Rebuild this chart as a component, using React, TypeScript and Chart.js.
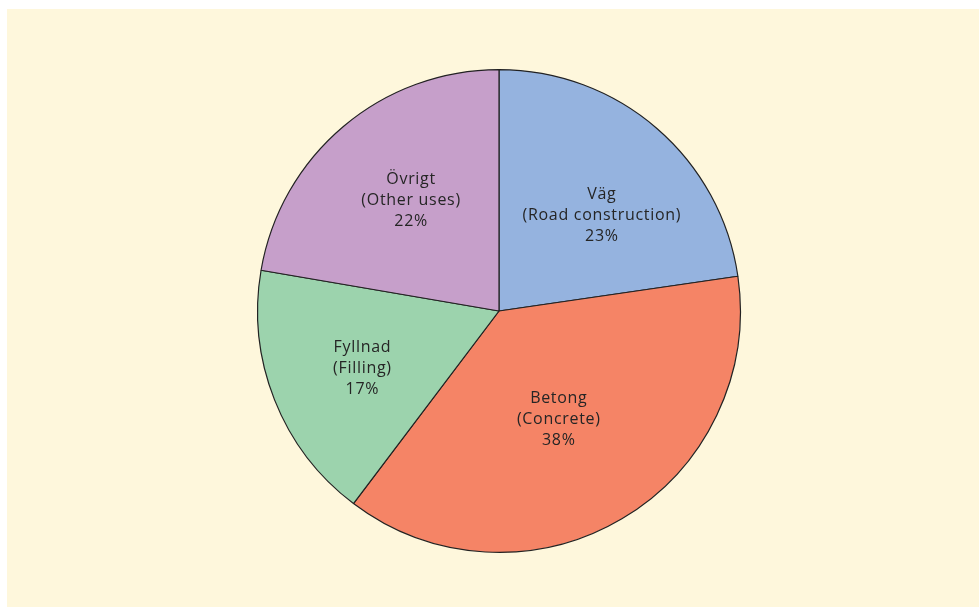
import React, { useEffect, useRef } from "react";
import { Chart, registerables } from "chart.js";

Chart.register(...registerables);

const categories = ["Väg", "Betong", "Fyllnad", "Övrigt"];
const englishNames = ["(Road construction)", "(Concrete)", "(Filling)", "(Other uses)"];
const shares = [22.7, 37.6, 17.4, 22.3];
const sliceColors = ["#95b3df", "#f58466", "#9cd3ad", "#c69fca"];
// label placement tweak per slice: [angle offset in degrees, fraction of radius]
const labelPlacement: [number, number][] = [
  [6.1, 0.583],
  [1.6, 0.511],
  [-1.0, 0.613],
  [1.8, 0.587],
];

const labelPlugin = {
  id: "sliceLabels",
  afterDatasetsDraw(chart: any) {
    const ctx = chart.ctx;
    const meta = chart.getDatasetMeta(0);
    ctx.save();
    ctx.font = '500 16px "Open Sans"';
    (ctx as any).letterSpacing = "0.7px";
    ctx.fillStyle = "#252525";
    ctx.textAlign = "center";
    ctx.textBaseline = "alphabetic";
    meta.data.forEach((arc: any, i: number) => {
      const p = arc.getProps(["x", "y", "startAngle", "endAngle", "outerRadius"], true);
      const [offDeg, frac] = labelPlacement[i];
      const mid = (p.startAngle + p.endAngle) / 2 + (offDeg * Math.PI) / 180;
      const cx = p.x + Math.cos(mid) * p.outerRadius * frac;
      const cy = p.y + Math.sin(mid) * p.outerRadius * frac;
      const lines = [categories[i], englishNames[i], Math.round(shares[i]) + "%"];
      const lh = 21;
      lines.forEach((t, k) => {
        ctx.fillText(t, cx, cy + (k - 1) * lh + 5.5);
      });
    });
    ctx.restore();
  },
};

export default function App() {
  const ref = useRef<HTMLCanvasElement | null>(null);
  useEffect(() => {
    if (!ref.current) return;
    const chart = new Chart(ref.current, {
      type: "pie",
      data: {
        labels: categories,
        datasets: [
          {
            data: shares,
            backgroundColor: sliceColors,
            borderColor: "#222222",
            borderWidth: 1.2,
            hoverOffset: 0,
          },
        ],
      },
      options: {
        responsive: false,
        animation: false,
        events: [],
        layout: { padding: { left: 12, right: 0, top: 60, bottom: 54 } },
        plugins: {
          legend: { display: false },
          tooltip: { enabled: false },
        },
      },
      plugins: [labelPlugin],
    });
    return () => chart.destroy();
  }, []);
  return (
    <div
      style={{
        position: "absolute",
        left: 7,
        top: 9,
        width: 972,
        height: 598,
        background: "#fef7dc",
      }}
    >
      <canvas ref={ref} width={972} height={598} style={{ display: "block" }} />
    </div>
  );
}
